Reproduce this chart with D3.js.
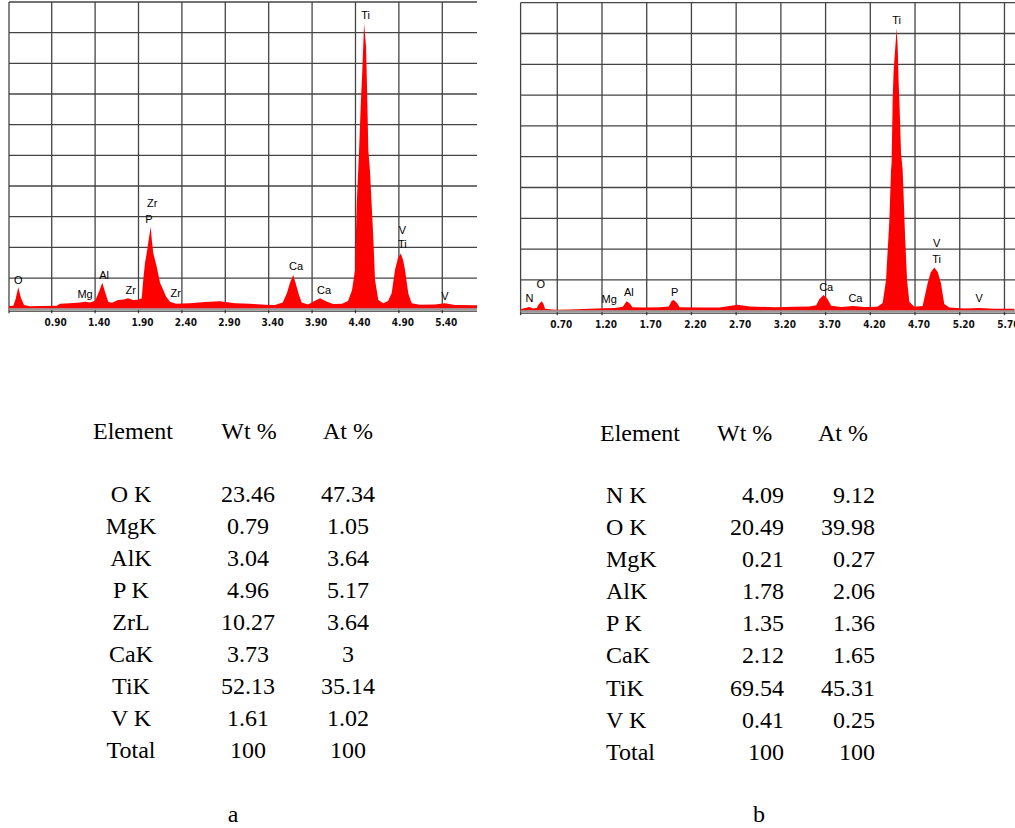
<!DOCTYPE html>
<html>
<head>
<meta charset="utf-8">
<script src="https://cdn.jsdelivr.net/npm/d3@7"></script>
<style>
  body { margin: 0; background: #fff; }
</style>
</head>
<body>
<script>
// spectrum a: energy (keV) and counts (0-100 scale)
var energyA = [0.408, 0.458, 0.483, 0.515, 0.546, 0.581, 0.65, 0.765, 0.96, 0.996, 1.11, 1.226, 1.284, 1.34, 1.40,
  1.445, 1.483, 1.514, 1.552, 1.595, 1.664, 1.733, 1.779, 1.837, 1.894, 1.937, 1.955, 1.975, 1.994, 2.015, 2.041,
  2.055, 2.071, 2.09, 2.11, 2.148, 2.186, 2.217, 2.263, 2.332, 2.493, 2.666, 2.839, 3.012, 3.185, 3.357, 3.472,
  3.561, 3.61, 3.645, 3.683, 3.714, 3.749, 3.78, 3.853, 3.922, 3.991, 4.06, 4.141, 4.245, 4.314, 4.36, 4.395,
  4.414, 4.44, 4.46, 4.479, 4.499, 4.522, 4.537, 4.548, 4.567, 4.605, 4.625, 4.663, 4.72, 4.775, 4.817, 4.855,
  4.89, 4.921, 4.948, 4.971, 5.008, 5.047, 5.143, 5.316, 5.431, 5.546, 5.80];
var countA = [0.9, 1.0, 3, 7.0, 3.5, 1.2, 0.8, 0.9, 1.0, 1.6, 1.8, 2.0, 2.3, 2.0, 2.6,
  5.5, 8.5, 5.5, 2.2, 1.9, 2.8, 3.0, 3.4, 2.8, 2.9, 3.4, 9.4, 15, 18, 22, 26.7,
  22, 18, 16, 13.7, 8.5, 6.1, 4, 2.3, 1.6, 1.8, 2.2, 2.4, 1.8, 1.6, 1.3, 1.2,
  2.0, 5, 8.5, 11, 8, 4.5, 2.0, 1.4, 2.4, 3.4, 2.4, 1.5, 1.6, 2.5, 6, 12.6,
  34, 50.7, 65.9, 77.8, 93, 85.4, 67, 51.7, 45, 23.5, 9.4, 2.8, 1.8, 2.5, 5, 12.6,
  16.5, 18, 16, 12.6, 5, 1.8, 1.3, 1.4, 1.8, 1.2, 1.1];
var ticksA = ["0.90", "1.40", "1.90", "2.40", "2.90", "3.40", "3.90", "4.40", "4.90", "5.40"];
// peak labels: text, energy, count level
var labelTextA = ["O", "Mg", "Al", "Zr", "Zr", "P", "Zr", "Ca", "Ca", "Ti", "V", "Ti", "V"];
var labelEnergyA = [0.515, 1.284, 1.503, 1.81, 2.059, 2.021, 2.329, 3.715, 4.037, 4.517, 4.941, 4.941, 5.431];
var labelLevelA = [9.4, 4.8, 11.0, 5.9, 34.4, 29.2, 5.2, 13.9, 5.9, 95.8, 25.7, 20.9, 4.2];

// spectrum b
var energyB = [0.29, 0.328, 0.388, 0.429, 0.47, 0.496, 0.526, 0.546, 0.563, 0.674, 0.842, 1.065, 1.232, 1.344,
  1.433, 1.475, 1.511, 1.541, 1.679, 1.846, 1.947, 1.98, 2.002, 2.036, 2.069, 2.292, 2.515, 2.717, 2.851, 3.13,
  3.353, 3.521, 3.595, 3.632, 3.677, 3.721, 3.763, 3.878, 4.004, 4.135, 4.28, 4.338, 4.376, 4.413, 4.432, 4.438,
  4.45, 4.461, 4.477, 4.488, 4.495, 4.506, 4.517, 4.525, 4.544, 4.562, 4.589, 4.611, 4.636, 4.692, 4.785, 4.841,
  4.876, 4.916, 4.955, 4.99, 5.027, 5.083, 5.25, 5.418, 5.585, 5.81];
var countB = [0.5, 0.8, 1.2, 0.7, 0.9, 2.2, 3.1, 2.2, 0.6, 0.3, 0.4, 0.6, 0.8, 0.9,
  1.3, 3.1, 2.3, 1.1, 1.0, 1.1, 1.4, 3.2, 3.5, 2.6, 1.1, 1.0, 1.0, 1.9, 1.4, 1.1,
  1.3, 1.4, 1.8, 3.8, 5.1, 3.8, 1.6, 1.2, 1.5, 1.2, 1.3, 2.5, 10, 29.4, 45.7, 47.9,
  68.4, 78.1, 84.6, 89, 91.7, 85.7, 73.8, 68.4, 51.1, 45.7, 24, 10, 2.9, 1.3, 1.5, 8.9,
  12.5, 14, 12.5, 8.9, 2.2, 1.0, 0.7, 0.9, 0.6, 0.6];
var ticksB = ["0.70", "1.20", "1.70", "2.20", "2.70", "3.20", "3.70", "4.20", "4.70", "5.20", "5.70"];
var labelTextB = ["N", "O", "Mg", "Al", "P", "Ca", "Ca", "Ti", "V", "Ti", "V"];
var labelEnergyB = [0.388, 0.515, 1.28, 1.50, 2.014, 3.707, 4.034, 4.495, 4.941, 4.941, 5.418];
var labelLevelB = [4.0, 8.7, 3.7, 6.0, 6.0, 7.8, 4.2, 94.4, 21.9, 16.7, 4.0];

// composition tables
var headers = ["Element", "Wt %", "At %"];
var elementsA = ["O K", "MgK", "AlK", "P K", "ZrL", "CaK", "TiK", "V K", "Total"];
var wtA = ["23.46", "0.79", "3.04", "4.96", "10.27", "3.73", "52.13", "1.61", "100"];
var atA = ["47.34", "1.05", "3.64", "5.17", "3.64", "3", "35.14", "1.02", "100"];
var elementsB = ["N K", "O K", "MgK", "AlK", "P K", "CaK", "TiK", "V K", "Total"];
var wtB = ["4.09", "20.49", "0.21", "1.78", "1.35", "2.12", "69.54", "0.41", "100"];
var atB = ["9.12", "39.98", "0.27", "2.06", "1.36", "1.65", "45.31", "0.25", "100"];

var svg = d3.select("body").append("svg")
  .attr("width", 1015)
  .attr("height", 828);

// draw one spectrum panel
function drawSpectrum(opt) {
  var g = svg.append("g");

  var x = d3.scaleLinear().domain(opt.xDomain).range(opt.xRange);
  var y = d3.scaleLinear().domain([0, 100]).range([opt.bottom, opt.top]);

  var x0 = opt.xRange[0], x1 = Math.min(opt.xRange[1], 1015);

  // horizontal grid
  g.selectAll(".hgrid")
    .data(d3.range(10, 101, 10))
    .enter().append("line")
    .attr("x1", x0).attr("x2", x1)
    .attr("y1", function(d) { return y(d); })
    .attr("y2", function(d) { return y(d); })
    .attr("stroke", "#444")
    .attr("stroke-width", 1.3);

  // vertical grid at tick energies + left border, running a bit below the axis
  var gridE = [opt.xDomain[0]].concat(opt.ticks.map(Number));
  g.selectAll(".vgrid")
    .data(gridE)
    .enter().append("line")
    .attr("x1", function(d) { return x(d); })
    .attr("x2", function(d) { return x(d); })
    .attr("y1", opt.top).attr("y2", opt.bottom + 4.5)
    .attr("stroke", "#444")
    .attr("stroke-width", 1.3);

  // spectrum fill
  var pts = opt.energy.map(function(e, i) { return [e, opt.counts[i]]; });
  var area = d3.area()
    .x(function(d) { return x(d[0]); })
    .y0(y(0))
    .y1(function(d) { return y(d[1]); });
  g.append("path")
    .datum(pts)
    .attr("d", area)
    .attr("fill", "#ff0000");

  // bottom axis lines (grey band + dark line)
  g.append("line")
    .attr("x1", x0).attr("x2", x1)
    .attr("y1", opt.bottom + 0.5).attr("y2", opt.bottom + 0.5)
    .attr("stroke", "#999").attr("stroke-width", 2);
  g.append("line")
    .attr("x1", x0).attr("x2", x1)
    .attr("y1", opt.bottom + 2.5).attr("y2", opt.bottom + 2.5)
    .attr("stroke", "#222").attr("stroke-width", 1);

  // tick labels
  g.selectAll(".tick")
    .data(opt.ticks)
    .enter().append("text")
    .attr("x", function(d) { return x(+d) + 4; })
    .attr("y", opt.bottom + 17.5)
    .attr("text-anchor", "middle")
    .style("font-family", "'DejaVu Sans Condensed', 'Liberation Sans Narrow', sans-serif")
    .style("font-stretch", "condensed")
    .style("font-weight", "bold")
    .style("font-size", "10px")
    .style("fill", "#111")
    .text(function(d) { return d; });

  // peak labels
  g.selectAll(".peak")
    .data(opt.labels)
    .enter().append("text")
    .attr("x", function(d, i) { return x(opt.labelEnergy[i]); })
    .attr("y", function(d, i) { return y(opt.labelLevel[i]); })
    .attr("dy", "0.35em")
    .attr("text-anchor", "middle")
    .style("font-family", "'Liberation Sans', Arial, sans-serif")
    .style("font-size", "11px")
    .style("fill", "#000")
    .text(function(d) { return d; });
}

drawSpectrum({
  energy: energyA, counts: countA, ticks: ticksA,
  labels: labelTextA, labelEnergy: labelEnergyA, labelLevel: labelLevelA,
  xDomain: [0.408, 5.80], xRange: [9, 477], top: 2, bottom: 308.7
});

drawSpectrum({
  energy: energyB, counts: countB, ticks: ticksB,
  labels: labelTextB, labelEnergy: labelEnergyB, labelLevel: labelLevelB,
  xDomain: [0.29, 6.0], xRange: [520.6, 1031.3], top: 2.7, bottom: 310.7
});

// tables
var serif = "'Liberation Serif', 'Times New Roman', serif";

function drawTable(opt) {
  var g = svg.append("g")
    .style("font-family", serif)
    .style("font-size", "24px")
    .style("fill", "#000");

  headers.forEach(function(h, i) {
    g.append("text")
      .attr("x", opt.headX[i])
      .attr("y", opt.headY)
      .attr("dy", "0.35em")
      .attr("text-anchor", opt.headAnchor)
      .text(h);
  });

  var cols = [opt.elements, opt.wt, opt.at];
  cols.forEach(function(col, c) {
    g.selectAll(".c" + c)
      .data(col)
      .enter().append("text")
      .attr("x", opt.colX[c])
      .attr("y", function(d, i) { return opt.rowY + i * opt.rowStep; })
      .attr("dy", "0.35em")
      .attr("text-anchor", opt.colAnchor[c])
      .text(function(d) { return d; });
  });

  g.append("text")
    .attr("x", opt.captionX)
    .attr("y", 814)
    .attr("dy", "0.35em")
    .attr("text-anchor", "middle")
    .text(opt.caption);
}

drawTable({
  elements: elementsA, wt: wtA, at: atA,
  headX: [133, 249, 348], headY: 431, headAnchor: "middle",
  colX: [131, 248, 348], colAnchor: ["middle", "middle", "middle"],
  rowY: 494, rowStep: 32, captionX: 233, caption: "a"
});

drawTable({
  elements: elementsB, wt: wtB, at: atB,
  headX: [600, 717, 818], headY: 433, headAnchor: "start",
  colX: [606, 784, 875], colAnchor: ["start", "end", "end"],
  rowY: 494.5, rowStep: 32.1, captionX: 759, caption: "b"
});
</script>
</body>
</html>
